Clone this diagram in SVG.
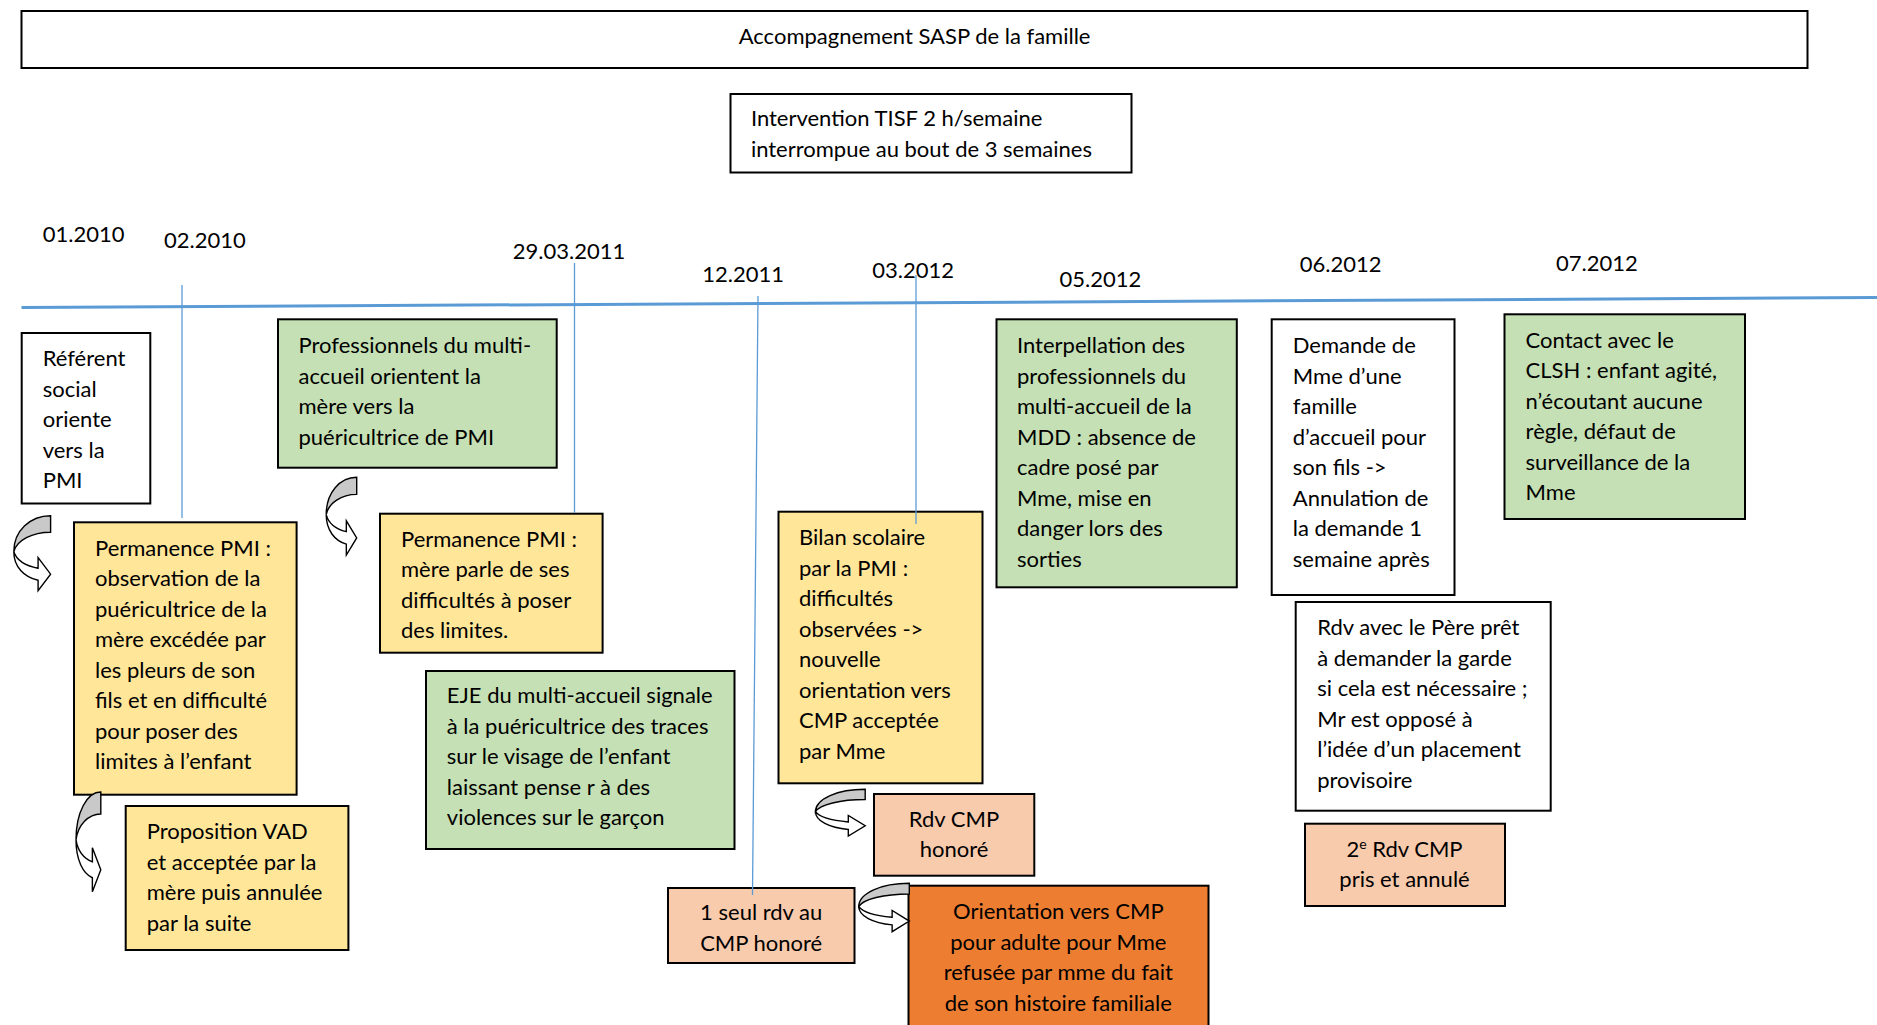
<svg xmlns="http://www.w3.org/2000/svg" xmlns:xlink="http://www.w3.org/1999/xlink" width="1877" height="1025" viewBox="0 0 1877 1025">
<style>
  .box{stroke:#000;stroke-width:2}
  .w{fill:#fff}
  .g{fill:#C5E0B4}
  .y{fill:#FFE699}
  .s{fill:#F8CBAD}
  .o{fill:#ED7D31}
  text{font-family:Lato,"Liberation Sans",sans-serif;font-size:22px;fill:#000}
  .c{text-anchor:middle}
  .axis{stroke:#5B9BD5;stroke-width:3;fill:none}
  .tick{stroke:#5B9BD5;stroke-width:1.3;fill:none}
  .ag{fill:#C9C9C9;stroke:#000;stroke-width:1.4;vector-effect:non-scaling-stroke}
  .aw{fill:#fff;stroke:#000;stroke-width:1.4;vector-effect:non-scaling-stroke}
</style>
<defs>
  <g id="carrow">
    <path class="ag" d="M100,0 C45,0 0,20 0,48 C8,33 50,22 100,22 Z"/>
    <path class="aw" d="M0,48 C0,68 28,82 66,86 L66,100 L100,78 L66,56 L66,70 C35,67 8,60 0,48 Z"/>
  </g>
</defs>
<rect width="1877" height="1025" fill="#fff"/>

<g id="axis">
  <line class="axis" x1="21.5" y1="307.5" x2="1877" y2="297.5"/>
</g>

<g id="dates">
  <text x="42.7" y="241.5">01.2010</text>
  <text x="164" y="247.5">02.2010</text>
  <text x="512.8" y="258.5">29.03.2011</text>
  <text x="702.3" y="281.7">12.2011</text>
  <text x="872.3" y="277.7">03.2012</text>
  <text x="1059.6" y="286.7">05.2012</text>
  <text x="1299.7" y="271.7">06.2012</text>
  <text x="1556" y="271">07.2012</text>
</g>

<g id="n-title">
  <rect class="box w" x="21.5" y="11" width="1786" height="57"/>
  <text class="c" x="914.6" y="44">Accompagnement SASP de la famille</text>
</g>

<g id="n-tisf">
  <rect class="box w" x="730.5" y="94" width="401" height="78.5"/>
  <text x="750.9" y="126">Intervention TISF 2 h/semaine</text>
  <text x="750.9" y="156.7">interrompue au bout de 3 semaines</text>
</g>

<g id="n-referent">
  <rect class="box w" x="21.7" y="333" width="128.6" height="170.5"/>
  <text x="42.7" y="366">Référent</text>
  <text x="42.7" y="396.5">social</text>
  <text x="42.7" y="427">oriente</text>
  <text x="42.7" y="457.5">vers la</text>
  <text x="42.7" y="488">PMI</text>
</g>

<g id="n-prof">
  <rect class="box g" x="278" y="319.3" width="278.7" height="148.4"/>
  <text x="298.5" y="353.3">Professionnels du multi-</text>
  <text x="298.5" y="383.8">accueil orientent la</text>
  <text x="298.5" y="414.3">mère vers la</text>
  <text x="298.5" y="444.8">puéricultrice de PMI</text>
</g>

<g id="n-perm1">
  <rect class="box y" x="74" y="522.3" width="222.6" height="272.4"/>
  <text x="95" y="555.7">Permanence PMI :</text>
  <text x="95" y="586.2">observation de la</text>
  <text x="95" y="616.7">puéricultrice de la</text>
  <text x="95" y="647.2">mère excédée par</text>
  <text x="95" y="677.7">les pleurs de son</text>
  <text x="95" y="708.2">fils et en difficulté</text>
  <text x="95" y="738.7">pour poser des</text>
  <text x="95" y="769.2">limites à l’enfant</text>
</g>

<g id="n-prop">
  <rect class="box y" x="125.7" y="806" width="222.7" height="144"/>
  <text x="146.7" y="839.3">Proposition VAD</text>
  <text x="146.7" y="869.8">et acceptée par la</text>
  <text x="146.7" y="900.3">mère puis annulée</text>
  <text x="146.7" y="930.8">par la suite</text>
</g>

<g id="n-perm2">
  <rect class="box y" x="380" y="513.7" width="222.6" height="139"/>
  <text x="401" y="546.7">Permanence PMI :</text>
  <text x="401" y="577.2">mère parle de ses</text>
  <text x="401" y="607.7">difficultés à poser</text>
  <text x="401" y="638.2">des limites.</text>
</g>

<g id="n-eje">
  <rect class="box g" x="426" y="671" width="308.5" height="178"/>
  <text x="446.8" y="703.3">EJE du multi-accueil signale</text>
  <text x="446.8" y="733.8">à la puéricultrice des traces</text>
  <text x="446.8" y="764.3">sur le visage de l’enfant</text>
  <text x="446.8" y="794.8">laissant pense r à des</text>
  <text x="446.8" y="825.3">violences sur le garçon</text>
</g>

<g id="n-bilan">
  <rect class="box y" x="778.5" y="511.7" width="204" height="271.6"/>
  <text x="799" y="545">Bilan scolaire</text>
  <text x="799" y="575.5">par la PMI :</text>
  <text x="799" y="606">difficultés</text>
  <text x="799" y="636.5">observées -&gt;</text>
  <text x="799" y="667">nouvelle</text>
  <text x="799" y="697.5">orientation vers</text>
  <text x="799" y="728">CMP acceptée</text>
  <text x="799" y="758.5">par Mme</text>
</g>

<g id="n-rdvcmp">
  <rect class="box s" x="874" y="794" width="160.3" height="81.7"/>
  <text class="c" x="954" y="826.7">Rdv CMP</text>
  <text class="c" x="954" y="857.2">honoré</text>
</g>

<g id="n-seul">
  <rect class="box s" x="668" y="888" width="186.5" height="75"/>
  <text class="c" x="761.2" y="920">1 seul rdv au</text>
  <text class="c" x="761.2" y="950.5">CMP honoré</text>
</g>

<g id="n-orient">
  <rect class="box o" x="908.5" y="885.7" width="300" height="160"/>
  <text class="c" x="1058.3" y="919.3">Orientation vers CMP</text>
  <text class="c" x="1058.3" y="949.8">pour adulte pour Mme</text>
  <text class="c" x="1058.3" y="980.3">refusée par mme du fait</text>
  <text class="c" x="1058.3" y="1010.8">de son histoire familiale</text>
</g>

<g id="n-interp">
  <rect class="box g" x="996.5" y="319.3" width="240.3" height="268"/>
  <text x="1017" y="353.3">Interpellation des</text>
  <text x="1017" y="383.8">professionnels du</text>
  <text x="1017" y="414.3">multi-accueil de la</text>
  <text x="1017" y="444.8">MDD : absence de</text>
  <text x="1017" y="475.3">cadre posé par</text>
  <text x="1017" y="505.8">Mme, mise en</text>
  <text x="1017" y="536.3">danger lors des</text>
  <text x="1017" y="566.8">sorties</text>
</g>

<g id="n-demande">
  <rect class="box w" x="1271.7" y="319.3" width="182.8" height="275.7"/>
  <text x="1292.8" y="353.3">Demande de</text>
  <text x="1292.8" y="383.8">Mme d’une</text>
  <text x="1292.8" y="414.3">famille</text>
  <text x="1292.8" y="444.8">d’accueil pour</text>
  <text x="1292.8" y="475.3">son fils -&gt;</text>
  <text x="1292.8" y="505.8">Annulation de</text>
  <text x="1292.8" y="536.3">la demande 1</text>
  <text x="1292.8" y="566.8">semaine après</text>
</g>

<g id="n-contact">
  <rect class="box g" x="1504.5" y="314.3" width="240.5" height="204.7"/>
  <text x="1525.6" y="347.7">Contact avec le</text>
  <text x="1525.6" y="378.2">CLSH : enfant agité,</text>
  <text x="1525.6" y="408.7">n’écoutant aucune</text>
  <text x="1525.6" y="439.2">règle, défaut de</text>
  <text x="1525.6" y="469.7">surveillance de la</text>
  <text x="1525.6" y="500.2">Mme</text>
</g>

<g id="n-pere">
  <rect class="box w" x="1295.7" y="602" width="255" height="208.7"/>
  <text x="1317.2" y="635">Rdv avec le Père prêt</text>
  <text x="1317.2" y="665.5">à demander la garde</text>
  <text x="1317.2" y="696">si cela est nécessaire ;</text>
  <text x="1317.2" y="726.5">Mr est opposé à</text>
  <text x="1317.2" y="757">l’idée d’un placement</text>
  <text x="1317.2" y="787.5">provisoire</text>
</g>

<g id="n-rdv2">
  <rect class="box s" x="1305" y="823.7" width="200" height="82.3"/>
  <text class="c" x="1404.5" y="856.7">2<tspan font-size="14" dy="-8">e</tspan><tspan dy="8"> Rdv CMP</tspan></text>
  <text class="c" x="1404.5" y="887">pris et annulé</text>
</g>

<g id="connectors">
  <line class="tick" x1="182" y1="285" x2="182" y2="518"/>
  <line class="tick" x1="574.5" y1="263" x2="574.5" y2="513"/>
  <line class="tick" x1="758" y1="296" x2="752.5" y2="895"/>
  <line class="tick" x1="916" y1="275" x2="916" y2="524"/>
  <use xlink:href="#carrow" transform="translate(13.8,515.7) scale(0.368,0.75)"/>
  <use xlink:href="#carrow" transform="translate(76,792) scale(0.248,0.997)"/>
  <use xlink:href="#carrow" transform="translate(326.2,477.3) scale(0.305,0.777)"/>
  <use xlink:href="#carrow" transform="translate(815.5,789.3) scale(0.497,0.467)"/>
  <use xlink:href="#carrow" transform="translate(858.8,883.3) scale(0.505,0.484)"/>
</g>
</svg>
